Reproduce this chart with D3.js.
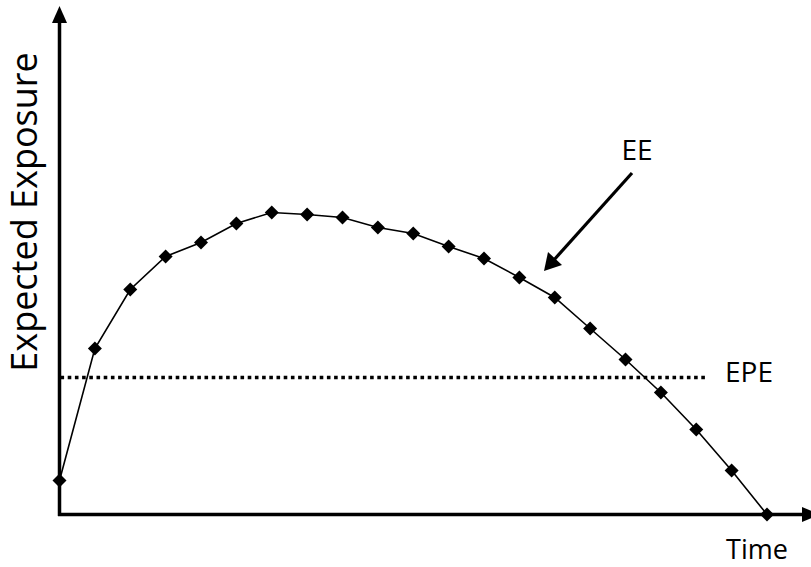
<!DOCTYPE html>
<html>
<head>
<meta charset="utf-8">
<script src="https://cdn.jsdelivr.net/npm/d3@7"></script>
<style>
  html, body { margin: 0; padding: 0; background: #fff; }
  svg { display: block; }
  text { font-family: "Open Sans", "Noto Sans", sans-serif; fill: #000; }
</style>
</head>
<body>
<svg id="chart" width="811" height="567"></svg>
<script>
// time steps and expected exposure profile (arbitrary units)
const times = d3.range(0, 21);
const ee = [6.8, 33.2, 45, 51.6, 54.4, 58.2, 60.4, 60, 59.4, 57.4, 56.2,
            53.6, 51.2, 47.4, 43.4, 37.2, 31, 24.4, 17, 8.8, 0];
const epe = 27.4;

const svg = d3.select('#chart');

const x = d3.scaleLinear().domain([0, 20]).range([59.5, 767]);
const y = d3.scaleLinear().domain([0, 100]).range([514.5, 14.5]);

// axes with arrow heads
const x0 = x(0), y0 = y(0);
svg.append('line')
  .attr('x1', x0).attr('y1', y0 + 1.5).attr('x2', x0).attr('y2', 22)
  .attr('stroke', '#000').attr('stroke-width', 3.5);
svg.append('path')
  .attr('d', `M${x0 - 7.5},23 L${x0},6 L${x0 + 7.5},23 Z`)
  .attr('fill', '#000');

svg.append('line')
  .attr('x1', x0 - 1.5).attr('y1', y0).attr('x2', 803).attr('y2', y0)
  .attr('stroke', '#000').attr('stroke-width', 3.5);
svg.append('path')
  .attr('d', `M802,${y0 - 7.5} L820,${y0} L802,${y0 + 7.5} Z`)
  .attr('fill', '#000');

// EPE dotted level
svg.append('line')
  .attr('x1', x0 + 1).attr('y1', y(epe)).attr('x2', 706).attr('y2', y(epe))
  .attr('stroke', '#000').attr('stroke-width', 3.5)
  .attr('stroke-dasharray', '3.6,3.6');

// EE curve
const line = d3.line()
  .x(function (d, i) { return x(times[i]); })
  .y(function (d) { return y(d); });

svg.append('path')
  .datum(ee)
  .attr('d', line)
  .attr('fill', 'none')
  .attr('stroke', '#000')
  .attr('stroke-width', 1.6);

svg.selectAll('path.pt')
  .data(ee)
  .enter().append('path')
  .attr('class', 'pt')
  .attr('d', d3.symbol().type(d3.symbolDiamond2).size(125))
  .attr('transform', function (d, i) { return `translate(${x(times[i])},${y(d)})`; })
  .attr('fill', '#000');

// pointer arrow to the curve
svg.append('line')
  .attr('x1', 632).attr('y1', 173).attr('x2', 553).attr('y2', 261)
  .attr('stroke', '#000').attr('stroke-width', 3.2);
svg.append('path')
  .attr('d', 'M544,271 L548,252 L562,265 Z')
  .attr('fill', '#000');

// labels
svg.append('text')
  .attr('transform', 'translate(37,212) rotate(-90)')
  .attr('text-anchor', 'middle')
  .attr('font-size', 36)
  .text('Expected Exposure');

svg.append('text')
  .attr('x', 637).attr('y', 160)
  .attr('text-anchor', 'middle')
  .attr('font-size', 28)
  .text('EE');

svg.append('text')
  .attr('x', 725).attr('y', 382)
  .attr('font-size', 28)
  .text('EPE');

svg.append('text')
  .attr('x', 757).attr('y', 559)
  .attr('text-anchor', 'middle')
  .attr('font-size', 27)
  .text('Time');
</script>
</body>
</html>
